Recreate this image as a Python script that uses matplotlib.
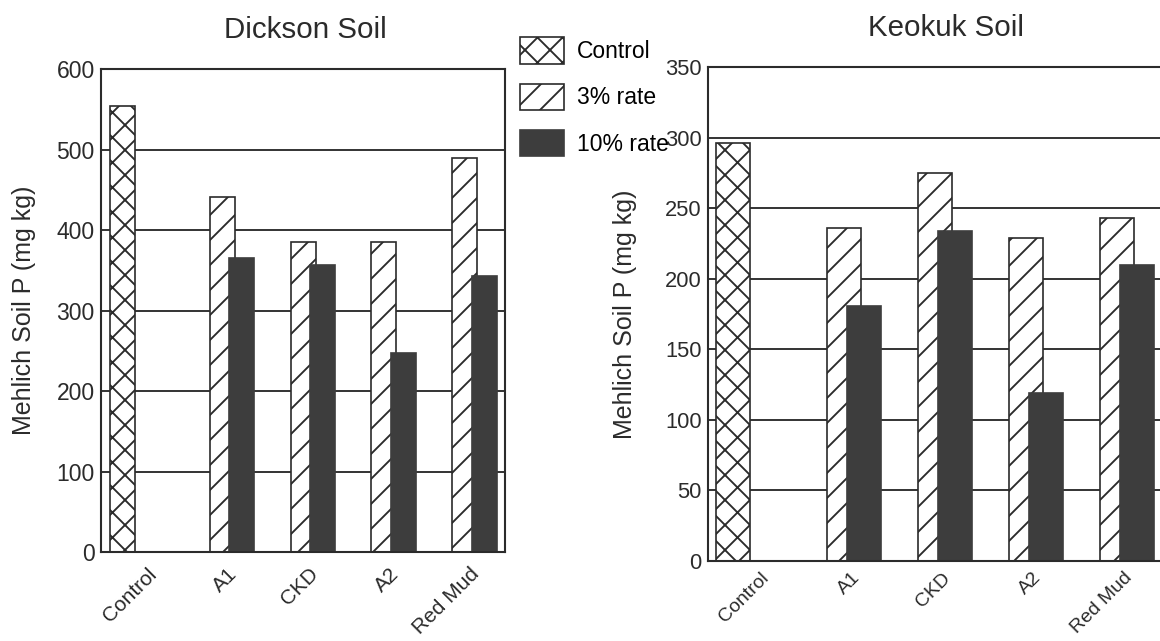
import matplotlib
matplotlib.use('Agg')
import matplotlib.pyplot as plt
import numpy as np

categories = ['Control', 'A1', 'CKD', 'A2', 'Red Mud']
series_names = ['Control', '3% rate', '10% rate']

# Dickson soil, Mehlich P (mg/kg)
dickson_control = [554]
dickson_3 = [441, 385, 385, 489]
dickson_10 = [365, 357, 247, 343]

# Keokuk soil
keokuk_control = [296]
keokuk_3 = [236, 275, 229, 243]
keokuk_10 = [181, 234, 119, 210]

plt.rcParams['font.family'] = ['Liberation Sans', 'DejaVu Sans']
plt.rcParams['hatch.linewidth'] = 0.9

ink = '#2b2b2b'
dark = '#3d3d3d'

# dpi chosen so the hatch spacing is close to the scanned figure
fig = plt.figure(figsize=(1160 / 150, 641 / 150), dpi=150)
ax1 = fig.add_axes([0.0871, 0.1388, 0.3483, 0.7535])
ax2 = fig.add_axes([0.6103, 0.1248, 0.3914, 0.7707])


def draw(ax, ctrl, r3, r10, off, w, ymax, step, title, title_x, tick_off, xpad, xfs, fs):
    x = np.arange(len(categories))
    h1 = ax.bar(x[:1] - off, ctrl, w, color='white', edgecolor=ink, linewidth=0.8,
                hatch='xx', label=series_names[0])
    h2 = ax.bar(x[1:], r3, w, color='white', edgecolor=ink, linewidth=0.8,
                hatch='//', label=series_names[1])
    h3 = ax.bar(x[1:] + off, r10, w, color=dark, edgecolor=dark, linewidth=0.8,
                label=series_names[2])
    ax.set_xlim(-0.5, 4.5)
    ax.set_ylim(0, ymax)
    ax.set_yticks(np.arange(0, ymax + 1, step))
    ax.set_axisbelow(True)
    ax.grid(axis='y', color=ink, linewidth=0.9)
    ax.set_xticks(x + tick_off)
    ax.set_xticklabels(categories, rotation=45, ha='right')
    ax.tick_params(axis='x', length=0, pad=xpad, labelsize=xfs, colors=ink)
    ax.tick_params(axis='y', length=0, pad=3, labelsize=fs, colors=ink)
    for s in ax.spines.values():
        s.set_color(ink)
        s.set_linewidth(1.0)
    ax.set_ylabel('Mehlich Soil P (mg kg)', fontsize=12, color=ink)
    ax.set_title(title, fontsize=14.2, pad=15, x=title_x, color=ink)
    return [h1, h2, h3]


handles = draw(ax1, dickson_control, dickson_3, dickson_10, 0.24, 0.31, 600, 100,
               'Dickson Soil', 0.505, 0.23, 6, 10, 11)
draw(ax2, keokuk_control, keokuk_3, keokuk_10, 0.22, 0.375, 350, 50,
     'Keokuk Soil', 0.524, 0.21, 4, 9.3, 10.5)
ax1.yaxis.set_label_coords(-0.161, 0.5)
ax2.yaxis.set_label_coords(-0.157, 0.5)

fig.legend(handles=handles, loc='upper left', bbox_to_anchor=(0.448, 0.942),
           frameon=False, fontsize=11, handlelength=1.92, handleheight=1.4,
           labelspacing=0.87, handletextpad=0.57, borderpad=0, borderaxespad=0)

fig.savefig('out.png', dpi=150)
